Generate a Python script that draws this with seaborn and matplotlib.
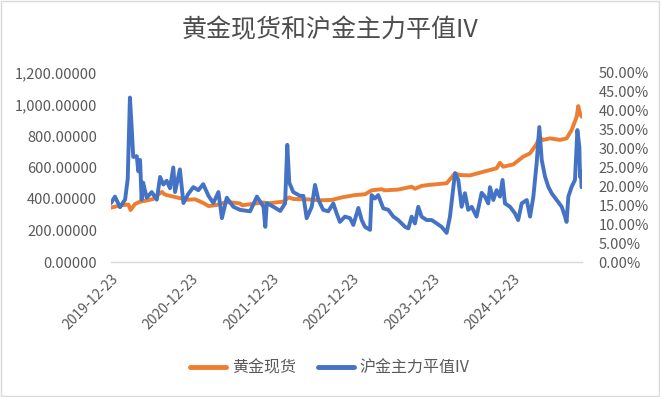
import matplotlib
matplotlib.use("Agg")
import matplotlib.pyplot as plt
from matplotlib.ticker import FuncFormatter, MultipleLocator
from matplotlib.lines import Line2D
from matplotlib.patches import Rectangle
import pandas as pd
import seaborn as sns

title = "黄金现货和沪金主力平值IV"
series_names = ["黄金现货", "沪金主力平值IV"]
tick_dates = ["2019-12-23", "2020-12-23", "2021-12-23", "2022-12-23", "2023-12-23", "2024-12-23"]

gold_dates = ["2019-12-23", "2020-01-12", "2020-02-02", "2020-02-20", "2020-03-11", "2020-03-21",
              "2020-04-10", "2020-05-03", "2020-06-01", "2020-07-02",
              "2020-07-25", "2020-08-11", "2020-08-20", "2020-09-01", "2020-10-17", "2020-12-01",
              "2021-01-08", "2021-02-14",
              "2021-03-10", "2021-04-16", "2021-05-28", "2021-07-01", "2021-07-31", "2021-08-10",
              "2021-10-01", "2021-11-16", "2021-11-30",
              "2022-02-13", "2022-03-10", "2022-03-30", "2022-05-30", "2022-07-30", "2022-09-21",
              "2022-11-05", "2023-01-05", "2023-02-19", "2023-03-21", "2023-05-05", "2023-05-21",
              "2023-07-20", "2023-09-19", "2023-10-04", "2023-11-03", "2023-12-04", "2024-02-25",
              "2024-04-03", "2024-04-26", "2024-06-10", "2024-08-10", "2024-10-09", "2024-10-24",
              "2024-11-08", "2024-12-24", "2025-02-07", "2025-03-10", "2025-04-09", "2025-04-21",
              "2025-05-09", "2025-06-08", "2025-07-24", "2025-08-23", "2025-09-15", "2025-10-08",
              "2025-10-15", "2025-10-23", "2025-10-30"]
gold_values = [345, 352, 358, 362, 365, 330,
               368, 383, 390, 400,
               430, 445, 432, 425, 410, 395,
               398, 375,
               355, 362, 380, 377, 372, 360,
               370, 378, 372,
               383, 410, 400, 398, 392, 394,
               410, 425, 430, 455, 462, 455,
               460, 478, 465, 483, 489, 500,
               563, 552, 550, 573, 595, 630,
               605, 620, 669, 690, 750, 790,
               775, 785, 775, 785, 838, 923,
               990, 944, 923]

iv_dates = ["2019-12-23", "2020-01-10", "2020-02-02", "2020-02-25", "2020-03-08", "2020-03-18",
            "2020-03-26", "2020-04-02", "2020-04-18", "2020-04-25", "2020-05-03", "2020-05-10",
            "2020-05-17", "2020-06-02", "2020-06-25", "2020-07-18", "2020-08-02", "2020-08-17",
            "2020-09-01", "2020-09-16", "2020-10-01", "2020-10-09", "2020-10-31", "2020-11-16",
            "2020-12-08", "2020-12-31", "2021-01-23", "2021-02-14", "2021-03-10", "2021-04-01",
            "2021-04-24", "2021-05-10", "2021-06-01", "2021-07-01", "2021-07-31", "2021-09-15",
            "2021-10-16", "2021-11-15", "2021-11-23", "2021-11-30", "2021-12-30", "2022-01-30",
            "2022-02-21", "2022-03-03", "2022-03-12", "2022-03-30", "2022-04-30", "2022-05-15",
            "2022-05-30", "2022-06-22", "2022-07-07", "2022-07-22", "2022-08-13", "2022-09-05",
            "2022-09-28", "2022-10-13", "2022-10-28", "2022-11-20", "2022-12-13", "2022-12-28",
            "2023-01-20", "2023-02-04", "2023-02-19", "2023-03-14", "2023-03-21", "2023-04-05",
            "2023-04-20", "2023-05-13", "2023-06-05", "2023-06-28", "2023-07-20", "2023-08-20",
            "2023-09-04", "2023-09-19", "2023-10-04", "2023-10-19", "2023-11-03", "2023-11-26",
            "2023-12-19", "2024-01-11", "2024-02-02", "2024-02-25", "2024-03-11", "2024-04-03",
            "2024-04-18", "2024-05-03", "2024-05-18", "2024-06-02", "2024-06-18", "2024-07-10",
            "2024-08-02", "2024-08-17", "2024-09-01", "2024-09-09", "2024-09-24", "2024-10-09",
            "2024-10-24", "2024-11-05", "2024-11-16", "2024-12-09", "2024-12-31", "2025-01-15",
            "2025-01-31", "2025-02-23", "2025-03-10", "2025-03-25", "2025-04-09", "2025-04-21",
            "2025-05-02", "2025-05-17", "2025-06-01", "2025-06-16", "2025-07-09", "2025-08-01",
            "2025-08-16", "2025-08-23", "2025-08-31", "2025-09-15", "2025-09-30", "2025-10-11",
            "2025-10-20", "2025-10-23", "2025-10-27", "2025-10-30"]
iv_values = [15.6, 17.3, 14.5, 16.5, 22.0, 43.5,
             35.5, 27.8, 28.0, 24.0, 27.0, 16.5,
             21.0, 17.0, 18.5, 16.5, 22.5, 20.5,
             21.5, 19.5, 25.0, 18.5, 24.5, 15.6,
             18.0, 19.8, 19.0, 20.6, 17.5, 15.6,
             18.5, 11.6, 17.0, 14.6, 13.8, 13.4,
             17.3, 14.6, 9.3, 15.6, 14.6, 13.5,
             15.5, 31.0, 21.0, 18.5, 17.5, 17.5,
             11.6, 14.6, 20.4, 16.5, 13.8, 13.4,
             15.5, 12.9, 10.6, 12.0, 11.6, 9.8,
             14.3, 11.1, 9.3, 8.5, 17.7, 16.8,
             17.7, 14.2, 13.8, 12.0, 11.1, 9.3,
             8.9, 12.0, 10.2, 14.6, 12.0, 11.1,
             11.1, 10.2, 9.3, 7.7, 12.0, 23.5,
             21.7, 14.6, 18.2, 13.8, 14.6, 12.0,
             18.3, 17.3, 15.5, 19.8, 16.4, 19.0,
             17.3, 21.7, 15.5, 14.6, 12.9, 11.1,
             15.5, 16.4, 12.0, 17.3, 26.2, 35.7,
             27.0, 22.6, 19.9, 18.2, 16.4, 14.6,
             12.0, 10.6, 17.3, 19.9, 21.7, 34.9,
             30.5, 22.5, 24.0, 19.8]

gold_df = pd.DataFrame({"date": pd.to_datetime(gold_dates), "value": gold_values})
iv_df = pd.DataFrame({"date": pd.to_datetime(iv_dates), "value": iv_values})

sns.set_theme(style="white")
plt.rcParams["font.family"] = ["Noto Sans CJK SC", "DejaVu Sans"]
text_color = "#595959"
orange = "#ED7D31"
blue = "#4472C4"

fig = plt.figure(figsize=(6.6, 3.97), dpi=100)
ax = fig.add_axes([111 / 660, 1 - 262 / 397, (582 - 111) / 660, (262 - 73) / 397])
ax2 = ax.twinx()

sns.lineplot(data=gold_df, x="date", y="value", ax=ax, color=orange, linewidth=2.8, legend=False)
sns.lineplot(data=iv_df, x="date", y="value", ax=ax2, color=blue, linewidth=2.8, legend=False)

ax.set_ylim(0, 1200)
ax.yaxis.set_major_locator(MultipleLocator(200))
ax.yaxis.set_major_formatter(FuncFormatter(lambda v, p: f"{v:,.5f}"))
ax2.set_ylim(0, 50)
ax2.yaxis.set_major_locator(MultipleLocator(5))
ax2.yaxis.set_major_formatter(FuncFormatter(lambda v, p: f"{v:.2f}%"))

ax.set_xlim(pd.Timestamp("2019-12-23"), pd.Timestamp("2025-11-01"))
ticks = pd.to_datetime(tick_dates)
ax.set_xticks(ticks)
ax.set_xticklabels(tick_dates, rotation=45, ha="right", rotation_mode="anchor")

for a in (ax, ax2):
    a.set_xlabel("")
    a.set_ylabel("")
    for s in a.spines.values():
        s.set_visible(False)
ax.spines["bottom"].set_visible(True)
ax.spines["bottom"].set_color("#D9D9D9")
ax.spines["bottom"].set_linewidth(1.0)

ax.tick_params(axis="x", colors=text_color, labelsize=10, length=4, width=1.0, color="#D9D9D9",
               direction="out", pad=3)
ax.tick_params(axis="y", colors=text_color, labelsize=10.5, length=0, pad=10)
ax2.tick_params(axis="y", colors=text_color, labelsize=10.5, length=0, pad=12)
ax2.set_zorder(ax.get_zorder() + 1)

fig.text(0.5, 1 - 30 / 397, title, ha="center", va="center", fontsize=18, color="#4D4D4D")

handles = [Line2D([0], [0], color=orange, linewidth=3.5), Line2D([0], [0], color=blue, linewidth=3.5)]
fig.legend(handles, series_names, loc="center", bbox_to_anchor=(0.5, 1 - 368 / 397), ncol=2,
           frameon=False, fontsize=11.5, labelcolor=text_color, handlelength=2.25, columnspacing=1.4,
           handletextpad=0.35)

fig.patches.append(Rectangle((0.002, 0.003), 0.996, 0.994, transform=fig.transFigure, fill=False,
                             edgecolor="#D9D9D9", linewidth=1.0))

fig.savefig("out.png", dpi=100)
